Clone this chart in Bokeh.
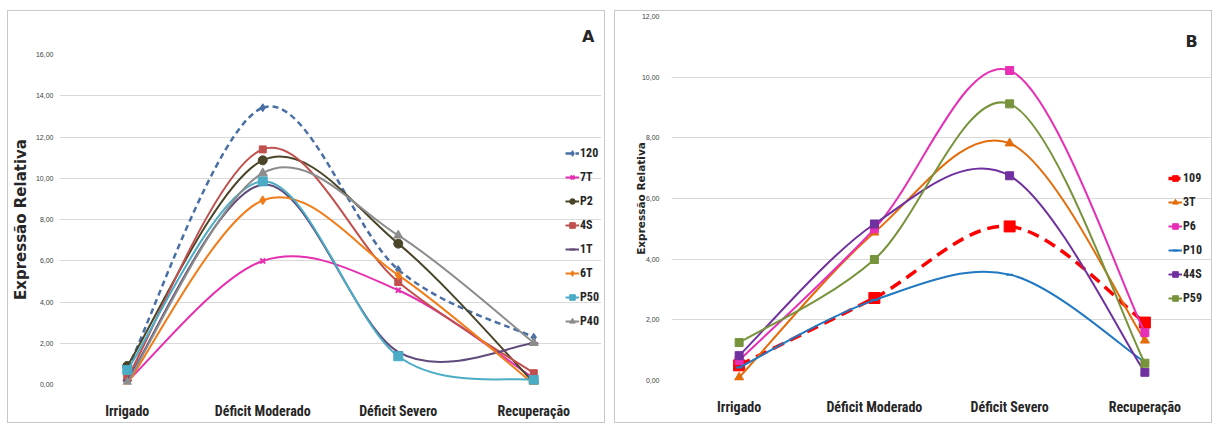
from bokeh.plotting import figure
from bokeh.layouts import row
from bokeh.models import FixedTicker, CustomJSTickFormatter, Legend, LegendItem, Label, Range1d
from bokeh.embed import file_html
from bokeh.resources import INLINE

categories = ["Irrigado", "Déficit Moderado", "Déficit Severo", "Recuperação"]

# Panel A series
a_names = ["120", "7T", "P2", "4S", "1T", "6T", "P50", "P40"]
a_120 = [0.75, 13.42, 5.57, 2.29]
a_7T = [0.15, 5.99, 4.57, 0.30]
a_P2 = [0.90, 10.87, 6.83, 0.10]
a_4S = [0.30, 11.40, 4.97, 0.55]
a_1T = [0.20, 9.69, 1.58, 2.00]
a_6T = [0.05, 8.93, 5.30, 0.02]
a_P50 = [0.70, 9.85, 1.37, 0.22]
a_P40 = [0.10, 10.25, 7.23, 2.02]

# Panel B series
b_names = ["109", "3T", "P6", "P10", "44S", "P59"]
b_109 = [0.50, 2.72, 5.08, 1.91]
b_3T = [0.10, 4.88, 7.82, 1.32]
b_P6 = [0.66, 5.00, 10.22, 1.58]
b_P10 = [0.43, 2.65, 3.49, 0.60]
b_44S = [0.82, 5.16, 6.75, 0.27]
b_P59 = [1.25, 3.99, 9.12, 0.57]

A_TICKS = [0, 2, 4, 6, 8, 10, 12, 14, 16]
B_TICKS = [0, 2, 4, 6, 8, 10, 12]

NARROW = "'Liberation Sans Narrow', 'Roboto Condensed', 'Roboto'"
GRID = "#d9d9d9"


def smooth(p, xs, ys, color, width, dash="solid"):
    n = len(xs)
    x0, y0, x1, y1, cx0, cy0, cx1, cy1 = [], [], [], [], [], [], [], []
    for i in range(n - 1):
        pm = i - 1 if i > 0 else i
        pp = i + 2 if i + 2 < n else i + 1
        x0.append(xs[i]); y0.append(ys[i])
        x1.append(xs[i + 1]); y1.append(ys[i + 1])
        cx0.append(xs[i] + (xs[i + 1] - xs[pm]) / 6.0)
        cy0.append(ys[i] + (ys[i + 1] - ys[pm]) / 6.0)
        cx1.append(xs[i + 1] - (xs[pp] - xs[i]) / 6.0)
        cy1.append(ys[i + 1] - (ys[pp] - ys[i]) / 6.0)
    return p.bezier(x0=x0, y0=y0, x1=x1, y1=y1, cx0=cx0, cy0=cy0, cx1=cx1, cy1=cy1,
                    line_color=color, line_width=width, line_dash=dash)


def make_fig(w, h, bl, br, bt, bb, ymax, ticks, title_size, title_standoff, tick_standoff,
             x_standoff, margin, title=None):
    p = figure(width=w, height=h, output_backend="svg", toolbar_location=None, title=title,
               x_range=Range1d(0, len(categories)), y_range=Range1d(0, ymax),
               min_border_left=bl, min_border_right=br, min_border_top=bt, min_border_bottom=bb)
    try:
        p.frame_align = False
    except Exception:
        pass
    p.outline_line_color = None
    p.background_fill_color = "white"
    p.border_fill_color = "white"
    p.xgrid.grid_line_color = None
    p.ygrid.grid_line_color = GRID
    p.ygrid.grid_line_width = 1
    for ax in (p.xaxis, p.yaxis):
        ax.axis_line_color = None
        ax.major_tick_line_color = None
        ax.minor_tick_line_color = None
        ax.major_tick_out = 0
        ax.major_tick_in = 0
        ax.minor_tick_out = 0
        ax.minor_tick_in = 0
    p.yaxis.ticker = FixedTicker(ticks=ticks)
    p.yaxis.formatter = CustomJSTickFormatter(code="return tick.toFixed(2).replace('.', ',');")
    p.yaxis.major_label_text_font = "Liberation Sans"
    p.yaxis.major_label_text_font_size = "7px"
    p.yaxis.major_label_text_color = "#404040"
    p.yaxis.major_label_standoff = tick_standoff
    p.yaxis.axis_label = "Expressão Relativa"
    p.yaxis.axis_label_text_font = "DejaVu Sans"
    p.yaxis.axis_label_text_font_style = "bold"
    p.yaxis.axis_label_text_font_size = title_size
    p.yaxis.axis_label_text_color = "#262626"
    p.yaxis.axis_label_standoff = title_standoff
    pos = [i + 0.5 for i in range(len(categories))]
    p.xaxis.ticker = FixedTicker(ticks=pos)
    p.xaxis.major_label_overrides = {pos[i]: categories[i] for i in range(len(categories))}
    p.xaxis.major_label_text_font = NARROW
    p.xaxis.major_label_text_font_style = "bold"
    p.xaxis.major_label_text_font_size = "14px"
    p.xaxis.major_label_text_color = "#262626"
    p.xaxis.major_label_standoff = x_standoff
    p.styles = {"border": "1px solid #c8c8c8", "margin": margin}
    return p


def add_series(p, names, data, styles, legend_loc):
    xs = [i + 0.5 for i in range(len(categories))]
    items = []
    for name, ys, st in zip(names, data, styles):
        color, lw, dash, marker, msize = st
        r1 = smooth(p, xs, ys, color, lw, dash)
        r2 = p.scatter(xs, ys, marker=marker, size=msize, fill_color=color, line_color=color,
                       line_width=2 if marker in ("x", "dash") else 1)
        items.append(LegendItem(label=name, renderers=[r1, r2]))
    leg = Legend(items=items, location=legend_loc, padding=0, margin=0, spacing=4,
                 glyph_width=14, glyph_height=20, label_height=20, label_standoff=1,
                 border_line_color=None, background_fill_alpha=0,
                 label_text_font=NARROW, label_text_font_style="bold",
                 label_text_font_size="12px", label_text_color="#262626")
    p.add_layout(leg)


# ---- Panel A ----
pa = make_fig(598, 413, 49, 5, 43, 40, 16, A_TICKS, "15px", 3, 6, 18, "10px 0 0 7px", title="A")
pa.title.align = "right"
pa.title.offset = 7
pa.title.text_font = "DejaVu Sans"
pa.title.text_font_style = "bold"
pa.title.text_font_size = "16px"
pa.title.text_color = "#262626"
pa.title.standoff = 17
a_styles = [
    ("#4a6fa5", 2.5, "6 4", "diamond", 8),
    ("#e62fb0", 2, "solid", "x", 7),
    ("#4a4528", 2, "solid", "circle", 9),
    ("#c0504d", 2, "solid", "square", 7),
    ("#604a7b", 2, "solid", "dash", 9),
    ("#f07d1a", 2, "solid", "diamond", 9),
    ("#4bacc6", 2, "solid", "square", 9),
    ("#8c8c8c", 2, "solid", "triangle", 9),
]
add_series(pa, a_names, [a_120, a_7T, a_P2, a_4S, a_1T, a_6T, a_P50, a_P40], a_styles, (506, 53))

# ---- Panel B ----
pb = make_fig(598, 413, 56, 1, 5, 44, 12, B_TICKS, "10.5px", -8, 12, 18, "10px 0 0 9px")
b_styles = [
    ("#ff0000", 3.5, "12 7", "square", 11),
    ("#e46c0a", 2, "solid", "triangle", 9),
    ("#e62fb4", 2, "solid", "square", 8),
    ("#1f78c1", 2, "solid", "dash", 7),
    ("#7030a0", 2, "solid", "square", 8),
    ("#77933c", 2, "solid", "square", 8),
]
add_series(pb, b_names, [b_109, b_3T, b_P6, b_P10, b_44S, b_P59], b_styles, (497, 72))
pb.add_layout(Label(x=3.845, y=11.18, text="B",
                    text_align="center", text_baseline="middle", text_font="DejaVu Sans",
                    text_font_style="bold", text_font_size="16px", text_color="#262626"))

layout = row(pa, pb, spacing=0)
open("out.html", "w").write(file_html(layout, INLINE))
